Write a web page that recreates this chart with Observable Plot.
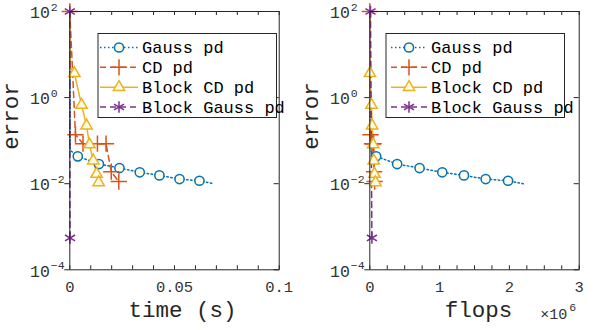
<!DOCTYPE html>
<html><head><meta charset="utf-8">
<script src="https://cdn.jsdelivr.net/npm/d3@7"></script>
<script src="https://cdn.jsdelivr.net/npm/@observablehq/plot@0.6"></script>
<style>
body{margin:0;background:#fff}
#wrap{position:relative;width:598px;height:330px;overflow:hidden}
.p{position:absolute;top:0}
</style>
</head><body><div id="wrap"></div>
<script>
// ---- data ----
const seriesNames = ["Gauss pd", "CD pd", "Block CD pd", "Block Gauss pd"];
const seriesColors = ["#0072BD", "#D95319", "#EDB120", "#7E2F8E"];

const gaussTime  = [0, 0.0002, 0.0038, 0.0139, 0.0237, 0.0334, 0.0428, 0.0524, 0.0619, 0.0688];
const gaussFlops = [0, 5e3, 0.091e6, 0.392e6, 0.713e6, 1.038e6, 1.349e6, 1.660e6, 1.981e6, 2.201e6];
const gaussErr   = [100, 0.06, 0.0432, 0.0286, 0.0231, 0.0184, 0.0156, 0.0128, 0.0117, 0.0100];
const gaussMarks = [2, 3, 4, 5, 6, 7, 8];

const cdTime  = [0, 0.0027, 0.0063, 0.0132, 0.0173, 0.0198, 0.0234];
const cdFlops = [0, 0.010e6, 0.030e6, 0.045e6, 0.055e6, 0.062e6, 0.070e6];
const cdErr   = [100, 0.138, 0.085, 0.085, 0.085, 0.019, 0.0112];
const cdMarks = [0, 1, 2, 3, 4, 5, 6];

const bcdTime  = [0, 0.0003, 0.0022, 0.0056, 0.0080, 0.0094, 0.0112, 0.0128, 0.0138];
const bcdFlops = [0, 0, 0.002e6, 0.024e6, 0.034e6, 0.048e6, 0.057e6, 0.067e6, 0.081e6];
const bcdErr   = [100, 5.0, 3.67, 0.676, 0.223, 0.081, 0.0343, 0.0168, 0.0107];
const bcdMarks = [2, 3, 4, 5, 6, 7, 8];

const bgTime  = [0, 0.0001];
const bgFlops = [0.010e6, 0.030e6];
const bgErr   = [100, 0.00055];
const bgMarks = [0, 1];

const yTicks = [1e2, 1e0, 1e-2, 1e-4];
const yTickExp = ["2", "0", "\u22122", "\u22124"];
const timeTicks = [0, 0.01, 0.02, 0.03, 0.04, 0.05, 0.06, 0.07, 0.08, 0.09, 0.1];
const timeLabels = [0, 0.05, 0.1];
const timeLabelText = ["0", "0.05", "0.1"];
const flopsTicks = [0, 0.25e6, 0.5e6, 0.75e6, 1e6, 1.25e6, 1.5e6, 1.75e6, 2e6, 2.25e6, 2.5e6, 2.75e6, 3e6];
const flopsLabels = [0, 1e6, 2e6, 3e6];
const flopsLabelText = ["0", "1", "2", "3"];

// ---- styles ----
const FONT = "Liberation Mono, Courier New, monospace";
const AX = "#262626";
const TXT = "#333333";
const styles = [
  {dash: "1.5,2.5", symbol: "circle", r: 4.6, fill: "#fdfbe2"},
  {dash: "6,4", symbol: "plus", r: 5.3, fill: "none"},
  {dash: null, symbol: "triangle", r: 4.2, fill: "#fdfbe2"},
  {dash: "6,4", symbol: "asterisk", r: 5.5, fill: "none"}
];

function rows(xs, ys) { return xs.map((x, i) => ({x, y: ys[i]})); }

function panel(opts) {
  const W = opts.width, H = 330, ML = 69.3, MR = opts.mr, MT = 11, MB = 60.7;
  const FW = W - ML - MR, FH = H - MT - MB;
  const series = opts.series;
  const marks = [];
  // ticks
  marks.push(Plot.tickX(opts.xTicks, {x: d => d, insetTop: FH - 4, stroke: AX}));
  marks.push(Plot.tickX(opts.xTicks, {x: d => d, insetBottom: FH - 4, stroke: AX}));
  marks.push(Plot.tickY(yTicks, {y: d => d, insetLeft: -5, insetRight: FW, stroke: AX}));
  marks.push(Plot.tickY(yTicks, {y: d => d, insetLeft: FW - 5, stroke: AX}));
  // series
  series.forEach((s, k) => {
    const st = styles[k];
    const data = rows(s.x, s.y);
    marks.push(Plot.line(data, {x: "x", y: "y", stroke: seriesColors[k], strokeWidth: 1.5,
      strokeDasharray: st.dash}));
  });
  series.forEach((s, k) => {
    const st = styles[k];
    const data = rows(s.x, s.y).filter((d, i) => s.marks.includes(i));
    marks.push(Plot.dot(data, {x: "x", y: "y", symbol: st.symbol, r: st.r,
      stroke: seriesColors[k], strokeWidth: 1.5, fill: st.fill}));
  });
  marks.push(Plot.frame({stroke: AX, strokeWidth: 1}));
  // tick labels
  marks.push(Plot.text(opts.xLabels, {x: d => d, text: (d, i) => opts.xLabelText[i],
    frameAnchor: "bottom", dy: 22.5, fontSize: 15.5, fill: TXT}));
  marks.push(Plot.text(yTicks, {y: d => d, text: () => "10", frameAnchor: "left",
    textAnchor: "end", dx: -20, dy: 1.5, fontSize: 16.5, fill: TXT}));
  marks.push(Plot.text(yTicks, {y: d => d, text: (d, i) => yTickExp[i], frameAnchor: "left",
    textAnchor: "start", dx: -19, dy: -4, fontSize: 11.5, fill: TXT}));
  // axis labels
  marks.push(Plot.text([opts.xLabel], {text: d => d, frameAnchor: "bottom", dx: opts.xLabelDx,
    dy: 47, fontSize: 22.5, fill: AX}));
  marks.push(Plot.text(["error"], {text: d => d, frameAnchor: "left", rotate: -90,
    dx: -59, dy: 9, fontSize: 22.5, fill: AX}));
  if (opts.extra) marks.push(...opts.extra);

  const svg = Plot.plot({
    width: W, height: H, marginLeft: ML, marginRight: MR, marginTop: MT, marginBottom: MB,
    style: {fontFamily: FONT, background: "transparent", overflow: "visible"},
    x: {domain: opts.xDomain, axis: null},
    y: {type: "log", domain: [1e-4, 1e2], axis: null},
    marks
  });

  // legend
  const g = d3.select(svg).append("g");
  const L = opts.legend;
  g.append("rect").attr("x", L.x0).attr("y", 33.5).attr("width", L.x1 - L.x0).attr("height", 84)
    .attr("fill", "#fff").attr("stroke", AX).attr("stroke-width", 1);
  const rowY = [47.5, 67.3, 87.2, 107];
  seriesNames.forEach((name, k) => {
    const st = styles[k], y = rowY[k];
    g.append("line").attr("x1", L.lx0).attr("x2", L.lx1).attr("y1", y).attr("y2", y)
      .attr("stroke", seriesColors[k]).attr("stroke-width", 1.5)
      .attr("stroke-dasharray", st.dash);
    const cx = (L.lx0 + L.lx1) / 2;
    if (st.symbol === "circle") {
      g.append("circle").attr("cx", cx).attr("cy", y).attr("r", st.r)
        .attr("fill", st.fill).attr("stroke", seriesColors[k]).attr("stroke-width", 1.5);
    } else {
      const type = {plus: d3.symbolPlus, triangle: d3.symbolTriangle, asterisk: d3.symbolAsterisk}[st.symbol];
      g.append("path").attr("transform", `translate(${cx},${y})`)
        .attr("d", d3.symbol(type, Math.PI * st.r * st.r)())
        .attr("fill", st.fill).attr("stroke", seriesColors[k]).attr("stroke-width", 1.5);
    }
    g.append("text").attr("x", L.tx).attr("y", y).attr("dy", "0.35em")
      .attr("text-anchor", "start")
      .attr("font-family", FONT).attr("font-size", 17).attr("fill", "#000").text(name);
  });

  svg.setAttribute("class", "p");
  svg.style.left = opts.left + "px";
  document.getElementById("wrap").appendChild(svg);
}

panel({
  left: 0, width: 300, mr: 21.3, xDomain: [0, 0.1],
  xTicks: timeTicks, xLabels: timeLabels, xLabelText: timeLabelText,
  xLabel: "time (s)", xLabelDx: 8,
  series: [
    {x: gaussTime, y: gaussErr, marks: gaussMarks},
    {x: cdTime, y: cdErr, marks: cdMarks},
    {x: bcdTime, y: bcdErr, marks: bcdMarks},
    {x: bgTime, y: bgErr, marks: bgMarks}
  ],
  legend: {x0: 98, x1: 276.5, lx0: 100, lx1: 138, tx: 142}
});

panel({
  left: 300, width: 298, mr: 19.3, xDomain: [0, 3e6],
  xTicks: flopsTicks, xLabels: flopsLabels, xLabelText: flopsLabelText,
  xLabel: "flops", xLabelDx: 4,
  series: [
    {x: gaussFlops, y: gaussErr, marks: gaussMarks},
    {x: cdFlops, y: cdErr, marks: cdMarks},
    {x: bcdFlops, y: bcdErr, marks: bcdMarks},
    {x: bgFlops, y: bgErr, marks: bgMarks}
  ],
  legend: {x0: 86, x1: 264.5, lx0: 91, lx1: 127, tx: 131},
  extra: [
    Plot.text(["\u00d710"], {text: d => d, frameAnchor: "bottom-right", textAnchor: "end",
      dx: -12, dy: 49, fontSize: 15, fill: TXT}),
    Plot.text(["6"], {text: d => d, frameAnchor: "bottom-right", textAnchor: "start",
      dx: -10, dy: 41, fontSize: 11.5, fill: TXT})
  ]
});
</script>
</body></html>
